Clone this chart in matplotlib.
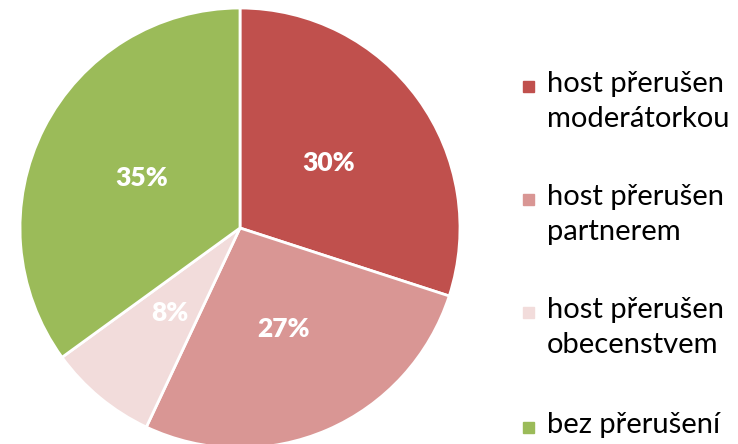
import matplotlib.pyplot as plt
from matplotlib.patches import Rectangle

plt.rcParams['font.family'] = ['Lato', 'DejaVu Sans']

labels = ['host přerušen\nmoderátorkou', 'host přerušen\npartnerem',
          'host přerušen\nobecenstvem', 'bez přerušení']
shares = [30, 27, 8, 35]
colors = ['#C0504D', '#D99694', '#F2DCDB', '#9BBB59']

W, H = 738, 444
fig = plt.figure(figsize=(W / 100, H / 100), dpi=100)

# pie centre (240, 228) px from top-left, radius 220 px
cx, cy, r = 240, 228, 220
ax = fig.add_axes([(cx - r) / W, (H - cy - r) / H, 2 * r / W, 2 * r / H])
wedges, texts, autotexts = ax.pie(
    shares, colors=colors, startangle=90, counterclock=False,
    autopct='%d%%', pctdistance=0.5,
    wedgeprops=dict(edgecolor='white', linewidth=2),
    textprops=dict(color='white', fontsize=19, fontweight='heavy'))
ax.set_xlim(-1, 1)
ax.set_ylim(-1, 1)
ax.set_aspect('auto')

# legend drawn by hand: square beside the first line of each label
ys = [87, 200, 313, 428]
for lab, col, y in zip(labels, colors, ys):
    fig.patches.append(Rectangle((523 / W, 1 - (y + 5) / H), 11 / W, 11 / H,
                                 transform=fig.transFigure, color=col, figure=fig))
    fig.text(547 / W, 1 - (y - 16) / H, lab, fontsize=21, va='top', ha='left',
             color='#000000', linespacing=1.45)

fig.savefig('out.png', dpi=100)
